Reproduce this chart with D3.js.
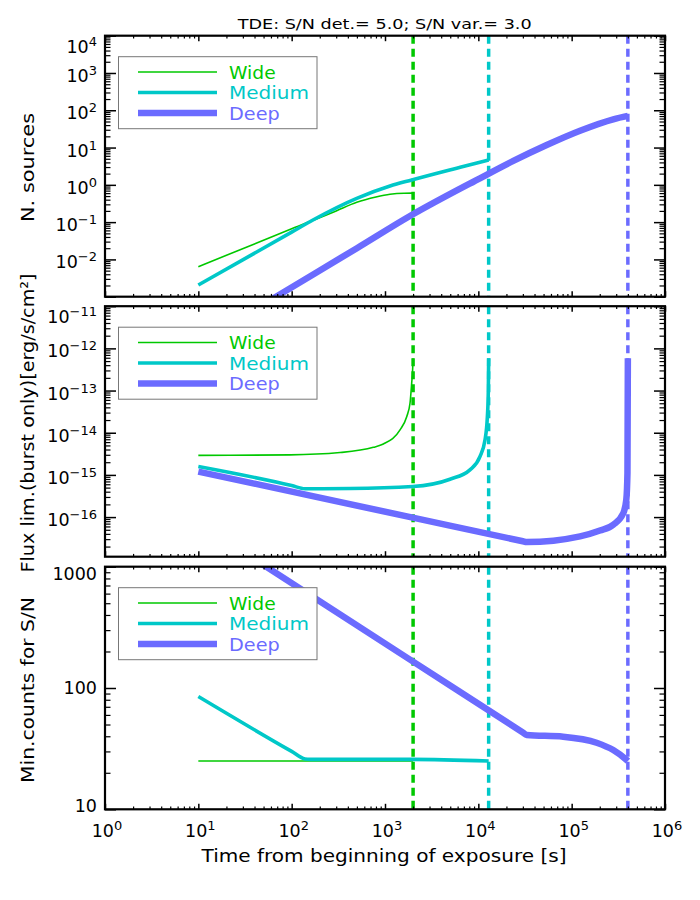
<!DOCTYPE html>
<html>
<head>
<meta charset="utf-8">
<script src="https://cdn.jsdelivr.net/npm/d3@7"></script>
<style>
  body { margin: 0; background: #fff; }
  text { font-family: "DejaVu Sans", sans-serif; }
</style>
</head>
<body>
<svg id="chart" width="700" height="900"></svg>
<script>
// surveys and the end of each exposure [s]
const surveys = ["Wide", "Medium", "Deep"];
const exposureEnd = [2000, 12900, 400000];

// panel 1: number of sources vs time  [t (s), N]
const nsrcWide = [[10, 0.0064], [100, 0.066], [300, 0.2], [498, 0.34], [800, 0.47], [1132, 0.557], [1600, 0.596], [1960, 0.6], [2000, 0.48]];
const nsrcMedium = [[10, 0.00206], [100, 0.054], [169, 0.114], [498, 0.435], [1132, 0.93], [1932, 1.35], [5860, 2.8], [10400, 4.05], [12900, 4.63]];
const nsrcDeep = [[10, 5.5e-5], [68, 1e-3], [500, 0.02], [1932, 0.155], [10400, 1.5], [23700, 4.38], [54000, 11.7], [123000, 28.3], [279000, 57.3], [400000, 70.5]];

// panel 2: flux limit (burst only) [erg/s/cm2]
const fluxWide = [[10, 2.9e-15], [96, 2.98e-15], [330, 3.39e-15], [750, 4.5e-15], [960, 5.4e-15], [1449, 1.17e-14],
  [1708, 2.4e-14], [1853, 5e-14], [1932, 1.5e-13], [1975, 3e-13], [2000, 5.8e-13]];
const fluxMedium = [[10, 1.58e-15], [100, 5.6e-16], [139, 4.7e-16], [422, 4.75e-16], [1982, 5.3e-16], [4970, 7.9e-16],
  [8130, 1.32e-15], [10400, 2.7e-15], [11800, 6.8e-15], [12500, 2.4e-14], [12800, 1e-13], [12900, 5.8e-13]];
const fluxDeep = [[10, 1.2e-15], [1982, 9.7e-17], [30000, 2.67e-17], [33000, 2.55e-17], [123000, 3.5e-17], [201000, 4.8e-17],
  [279000, 6.6e-17], [357000, 1.23e-16], [385000, 2.6e-16], [396000, 1.1e-15], [400000, 5.8e-13]];

// panel 3: minimum counts for S/N
const countsWide = [[10, 25], [2000, 25]];
const countsMedium = [[10, 85], [100, 30], [139, 26], [160, 25.8], [1932, 25.8], [12900, 25]];
const countsDeep = [[10, 2300], [2000, 165], [30000, 43], [33000, 41], [81000, 39.7], [185000, 35.4], [279000, 30.8], [389000, 25.5], [400000, 25]];

// tick labels
const xTickExp = ["0", "1", "2", "3", "4", "5", "6"];
const nsrcTickExp = ["-2", "-1", "0", "1", "2", "3", "4"];
const fluxTickExp = ["-16", "-15", "-14", "-13", "-12", "-11"];
const countsTicks = ["10", "100", "1000"];

const colors = ["#00c800", "#00c8c8", "#6b6bff"];
const widths = [1.6, 3.6, 6.5];

const svg = d3.select("#chart");
const left = 105, right = 665;
const x = d3.scaleLog().domain([1, 1e6]).range([left, right]);

const panels = [
  { top: 35.7, bottom: 296.7, domain: [1e-3, 1e4], series: [nsrcWide, nsrcMedium, nsrcDeep],
    ticks: nsrcTickExp.map(e => ({ v: Math.pow(10, +e), base: "10", exp: e.replace("-", "\u2212") })) },
  { top: 306.2, bottom: 556.7, domain: [1.15e-17, 1e-11], series: [fluxWide, fluxMedium, fluxDeep],
    ticks: fluxTickExp.map(e => ({ v: Math.pow(10, +e), base: "10", exp: e.replace("-", "\u2212") })) },
  { top: 566.7, bottom: 809.3, domain: [10, 1000], series: [countsWide, countsMedium, countsDeep],
    ticks: countsTicks.map(t => ({ v: +t, base: t, exp: null })) }
];

function minors(lo, hi) {
  const out = [];
  for (let d = Math.floor(Math.log10(lo)); d <= Math.ceil(Math.log10(hi)); d++) {
    for (let k = 2; k <= 9; k++) {
      const v = k * Math.pow(10, d);
      if (v > lo * 1.0001 && v < hi * 0.9999) out.push(v);
    }
  }
  return out;
}

const xMajors = xTickExp.map(e => Math.pow(10, +e));
const xMinors = minors(1, 1e6);

panels.forEach((p, pi) => {
  const y = d3.scaleLog().domain(p.domain).range([p.bottom, p.top]);
  const g = svg.append("g");
  const h = p.bottom - p.top, w = right - left;

  const clipId = "clip" + pi;
  svg.append("clipPath").attr("id", clipId)
    .append("rect").attr("x", left).attr("y", p.top).attr("width", w).attr("height", h);

  // dashed end-of-exposure lines
  g.append("g").attr("clip-path", `url(#${clipId})`)
    .selectAll("line").data(exposureEnd).join("line")
    .attr("x1", d => x(d)).attr("x2", d => x(d))
    .attr("y1", p.top).attr("y2", p.bottom)
    .attr("stroke", (d, i) => colors[i])
    .attr("stroke-width", 3.5)
    .attr("stroke-dasharray", "8,5");

  // curves
  const line = d3.line().x(d => x(d[0])).y(d => y(d[1])).curve(d3.curveMonotoneX);
  g.append("g").attr("clip-path", `url(#${clipId})`)
    .selectAll("path").data(p.series).join("path")
    .attr("d", line)
    .attr("fill", "none")
    .attr("stroke", (d, i) => colors[i])
    .attr("stroke-width", (d, i) => widths[i]);

  // y-axis ticks, left and right, pointing inward
  const yMajors = d3.range(Math.ceil(Math.log10(p.domain[0]) - 1e-9), Math.floor(Math.log10(p.domain[1]) + 1e-9) + 1)
    .map(e => Math.pow(10, e));
  const yMinors = minors(p.domain[0], p.domain[1]);
  [[d3.axisLeft, left], [d3.axisRight, right]].forEach(([ax, pos]) => {
    g.append("g").attr("transform", `translate(${pos},0)`)
      .call(ax(y).tickValues(yMajors).tickSize(-11).tickSizeOuter(0).tickFormat(""))
      .call(s => s.select(".domain").remove())
      .selectAll("line").attr("stroke", "#000").attr("stroke-width", 1.5);
    g.append("g").attr("transform", `translate(${pos},0)`)
      .call(ax(y).tickValues(yMinors).tickSize(-5.5).tickSizeOuter(0).tickFormat(""))
      .call(s => s.select(".domain").remove())
      .selectAll("line").attr("stroke", "#000").attr("stroke-width", 1.2);
  });

  // x-axis ticks, bottom and top
  [[d3.axisBottom, p.bottom], [d3.axisTop, p.top]].forEach(([ax, pos]) => {
    g.append("g").attr("transform", `translate(0,${pos})`)
      .call(ax(x).tickValues(xMajors).tickSize(-5.5).tickSizeOuter(0).tickFormat(""))
      .call(s => s.select(".domain").remove())
      .selectAll("line").attr("stroke", "#000").attr("stroke-width", 1.5);
    g.append("g").attr("transform", `translate(0,${pos})`)
      .call(ax(x).tickValues(xMinors).tickSize(-2.8).tickSizeOuter(0).tickFormat(""))
      .call(s => s.select(".domain").remove())
      .selectAll("line").attr("stroke", "#000").attr("stroke-width", 1.2);
  });

  // frame
  g.append("rect").attr("x", left).attr("y", p.top).attr("width", w).attr("height", h)
    .attr("fill", "none").attr("stroke", "#000").attr("stroke-width", 2.2);

  // y tick labels
  p.ticks.forEach(t => {
    let by = y(t.v) + (t.exp ? 9 : 6);
    const topExt = t.exp ? 16 : 12;
    if (by - topExt < p.top + 1) by = p.top + 1 + topExt;
    if (by > p.bottom + 3) by = p.bottom + 3;
    const txt = g.append("text").attr("x", 97).attr("y", by)
      .attr("text-anchor", "end").attr("font-size", 17.5);
    txt.append("tspan").text(t.base);
    if (t.exp) txt.append("tspan").attr("dy", -7).attr("font-size", 13).text(t.exp);
  });

  // legend
  const lg = g.append("g");
  lg.append("rect").attr("x", 118.5).attr("y", p.top + 21).attr("width", 198.5).attr("height", 72)
    .attr("fill", "#fff").attr("stroke", "#777").attr("stroke-width", 1);
  const legLens = [46.7, 80, 50.7];
  surveys.forEach((s, i) => {
    const ly = p.top + 36.3 + i * 20.5;
    lg.append("line").attr("x1", 138).attr("x2", 217).attr("y1", ly).attr("y2", ly)
      .attr("stroke", colors[i]).attr("stroke-width", widths[i]);
    lg.append("text").attr("x", 229).attr("y", ly + 6.5).attr("font-size", 17.5)
      .attr("fill", colors[i]).attr("textLength", legLens[i]).attr("lengthAdjust", "spacingAndGlyphs").text(s);
  });
});

// x tick labels on the bottom panel
xMajors.forEach((v, i) => {
  const txt = svg.append("text").attr("x", x(v) + 2).attr("y", 837)
    .attr("text-anchor", "middle").attr("font-size", 17.5);
  txt.append("tspan").text("10");
  txt.append("tspan").attr("dy", -7).attr("font-size", 13).text(xTickExp[i]);
});

// titles
svg.append("text").attr("x", 384.7).attr("y", 29).attr("text-anchor", "middle")
  .attr("font-size", 14.5).attr("textLength", 294).attr("lengthAdjust", "spacingAndGlyphs")
  .text("TDE: S/N det.= 5.0; S/N var.= 3.0");
svg.append("text").attr("x", 384).attr("y", 862).attr("text-anchor", "middle")
  .attr("font-size", 18).attr("textLength", 365).attr("lengthAdjust", "spacingAndGlyphs")
  .text("Time from beginning of exposure [s]");

const yLabels = [
  { text: "N. sources", cy: 167.5, len: 109 },
  { text: "Flux lim.(burst only)[erg/s/cm\u00b2]", cy: 423, len: 299 },
  { text: "Min.counts for S/N", cy: 690, len: 186 }
];
yLabels.forEach(l => {
  svg.append("text").attr("transform", `translate(34,${l.cy}) rotate(-90)`)
    .attr("text-anchor", "middle").attr("font-size", 18)
    .attr("textLength", l.len).attr("lengthAdjust", "spacingAndGlyphs").text(l.text);
});
</script>
</body>
</html>
